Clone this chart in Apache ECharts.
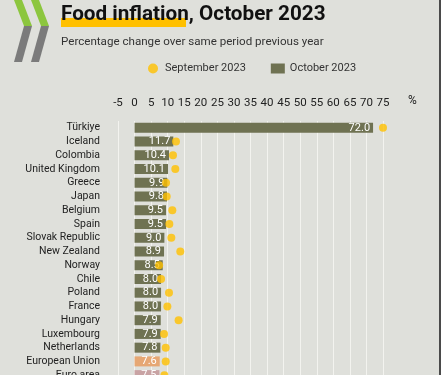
<!DOCTYPE html>
<html><head><meta charset="utf-8">
<script src="https://cdn.jsdelivr.net/npm/echarts@6/dist/echarts.min.js"></script>
<style>html,body{margin:0;padding:0;background:#dfe0db;overflow:hidden;}#c{width:441px;height:400px;}</style>
</head><body><div id="c"></div>
<script>
const categories = ["Türkiye","Iceland","Colombia","United Kingdom","Greece","Japan","Belgium","Spain","Slovak Republic","New Zealand","Norway","Chile","Poland","France","Hungary","Luxembourg","Netherlands","European Union","Euro area"];
const october2023 = [72.0,11.7,10.4,10.1,9.9,9.8,9.5,9.5,9.0,8.9,8.5,8.0,8.0,8.0,7.9,7.9,7.8,7.6,7.5];
const september2023 = [75.0,12.5,11.6,12.3,9.5,9.7,11.4,10.5,11.1,13.8,7.4,8.0,10.4,9.9,13.3,8.9,9.4,9.4,9.0];
const xTicks = [-5,0,5,10,15,20,25,30,35,40,45,50,55,60,65,70,75];

const barColors = {"European Union":"#e6a774","Euro area":"#c9a3a4"};
const font = "Roboto, 'Noto Sans', sans-serif";

const chart = echarts.init(document.getElementById('c'), null, {renderer:'canvas'});
chart.setOption({
  backgroundColor:'#dfe0db',
  animation:false,
  textStyle:{fontFamily:font},
  title:[
    {text:'Food inflation, October 2023', left:56, top:-1, textStyle:{fontFamily:font, fontSize:20.7, fontWeight:'bold', color:'#111'}},
    {text:'Percentage change over same period previous year', left:56, top:31, textStyle:{fontFamily:font, fontSize:11.6, fontWeight:'normal', color:'#333'}}
  ],
  legend:{
    left:143, top:58, itemWidth:14, itemHeight:10, itemGap:25,
    textStyle:{fontFamily:font, fontSize:11, color:'#333'},
    data:[{name:'September 2023', icon:'circle'},{name:'October 2023', icon:'rect'}]
  },
  graphic:[
    {type:'polygon', shape:{points:[[14,0],[22,0],[32,26],[24,26]]}, style:{fill:'#8cc63e'}},
    {type:'polygon', shape:{points:[[24,26],[32,26],[22,62],[14,62]]}, style:{fill:'#7b7b7b'}},
    {type:'polygon', shape:{points:[[31,0],[39,0],[49,26],[41,26]]}, style:{fill:'#8cc63e'}},
    {type:'polygon', shape:{points:[[41,26],[49,26],[39,62],[31,62]]}, style:{fill:'#7b7b7b'}},
    {type:'rect', z:-1, shape:{x:61,y:18,width:125,height:9}, style:{fill:'#ffc000'}},
    {type:'text', left:408, top:95, style:{text:'%', fontFamily:font, fontSize:12, fill:'#222'}},
    {type:'rect', shape:{x:439,y:0,width:2,height:400}, style:{fill:'#4a4a4a'}}
  ],
  grid:{left:118, top:121, width:265, height:261, containLabel:false},
  xAxis:{
    type:'value', position:'top', min:-5, max:75, interval:5,
    axisLine:{show:false}, axisTick:{show:false},
    axisLabel:{fontFamily:font, fontSize:11.5, color:'#222', margin:12},
    splitLine:{show:true, lineStyle:{color:'#f3f3ef', width:1}}
  },
  yAxis:{
    type:'category', data:categories, inverse:true,
    axisLine:{show:false}, axisTick:{show:false},
    axisLabel:{interval:0, fontFamily:font, fontSize:10.5, color:'#222', margin:18}
  },
  series:[
    {name:'October 2023', type:'bar', barWidth:10, z:2,
     data:october2023.map((v,i)=>({value:v, itemStyle:{color:barColors[categories[i]]||'#6f7252'}})),
     itemStyle:{color:'#6f7252'},
     label:{show:true, position:'insideRight', offset:[2,0], formatter:p=>p.value.toFixed(1), color:'#fff', fontFamily:font, fontSize:11}
    },
    {name:'September 2023', type:'scatter', symbol:'circle', symbolSize:8, z:3,
     data:september2023, itemStyle:{color:'#ffc000'}}
  ]
});
</script></body></html>
